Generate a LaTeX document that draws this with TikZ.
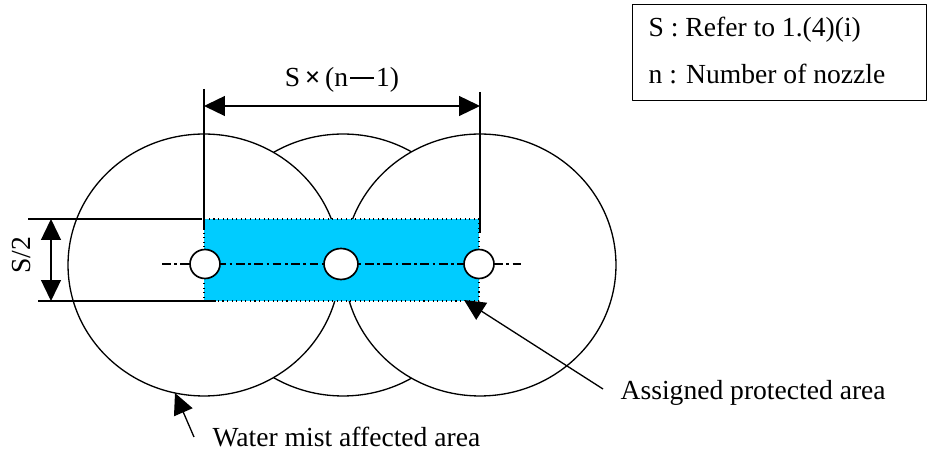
\documentclass[tikz,border=0pt]{standalone}
\usepackage{fontspec}
\setmainfont{Liberation Serif}
\usetikzlibrary{arrows.meta,shapes.geometric}
\definecolor{areablue}{RGB}{0,204,255}
\begin{document}
\begin{tikzpicture}[x=0.02cm,y=-0.02cm,>={Triangle[length=4.2mm,width=4mm]},line join=round,line width=0.75pt,font=\fontsize{15.7}{18}\selectfont]
\tikzset{nozzle/.style={draw,line width=0.95pt,fill=white,ellipse,inner sep=0pt,minimum width=0.6cm,minimum height=0.58cm},
	txt/.style={inner sep=0pt,anchor=base west}}
\useasboundingbox (0,0) rectangle (930,455);
% water mist affected areas
\draw (343,265) ellipse [x radius=2.72cm,y radius=2.62cm];
\draw[fill=white] (204,265) ellipse [x radius=2.72cm,y radius=2.62cm]
	(480,265) ellipse [x radius=2.72cm,y radius=2.62cm];
% assigned protected area
\fill[areablue] (204,219) rectangle (479,301);
\draw[dotted,line width=0.6pt] (204,219) rectangle (479,301);
% centre line and nozzles
\coordinate (cl) at (162,264); \coordinate (cr) at (523,264);
\draw[line width=1pt,dash pattern=on 5pt off 2pt on 1.5pt off 2pt] (cl)--(cr);
\node[nozzle] (n1) at (205,264) {};
\node[nozzle,minimum width=0.68cm,minimum height=0.62cm] (n2) at (341,264) {};
\node[nozzle] (n3) at (479,264) {};
% dimension S x (n-1)
\draw (204,89)--(204,230) (480,92)--(480,233);
\coordinate (dl) at (204,106); \coordinate (dr) at (480,106);
\draw[<->] (dl)--(dr);
\node[anchor=base,inner sep=0pt] (span) at (342,87) {S\,\textbf{×}\,(n\hspace{0.08em}\rule[0.3em]{0.85em}{0.06em}\hspace{0.08em}1)};
% dimension S/2
\draw (28,219)--(202,219) (38,301)--(216,301);
\coordinate (ht) at (51,219); \coordinate (hb) at (51,301);
\draw[<->] (ht)--(hb);
\node[rotate=90,inner sep=0pt] (half) at (22,255) {S/2};
% labels
\node[txt] (ap) at (620,400) {Assigned protected area};
\coordinate (aptail) at (603,389); \coordinate (aptip) at (464,300);
\draw[->] (aptail)--(aptip);
\node[txt] (wm) at (212,447) {Water mist affected area};
\coordinate (wmtail) at (194,437); \coordinate (wmtip) at (175,393);
\draw[->] (wmtail)--(wmtip);
% legend
\node[draw,anchor=north west,minimum width=5.88cm,minimum height=1.92cm] (legend) at (632,4) {};
\node[txt] (sdef) at (648,37) {S : Refer to 1.(4)(i)};
\node[txt] (ndef) at (648,84) {n : Number of nozzle};
\end{tikzpicture}
\end{document}
